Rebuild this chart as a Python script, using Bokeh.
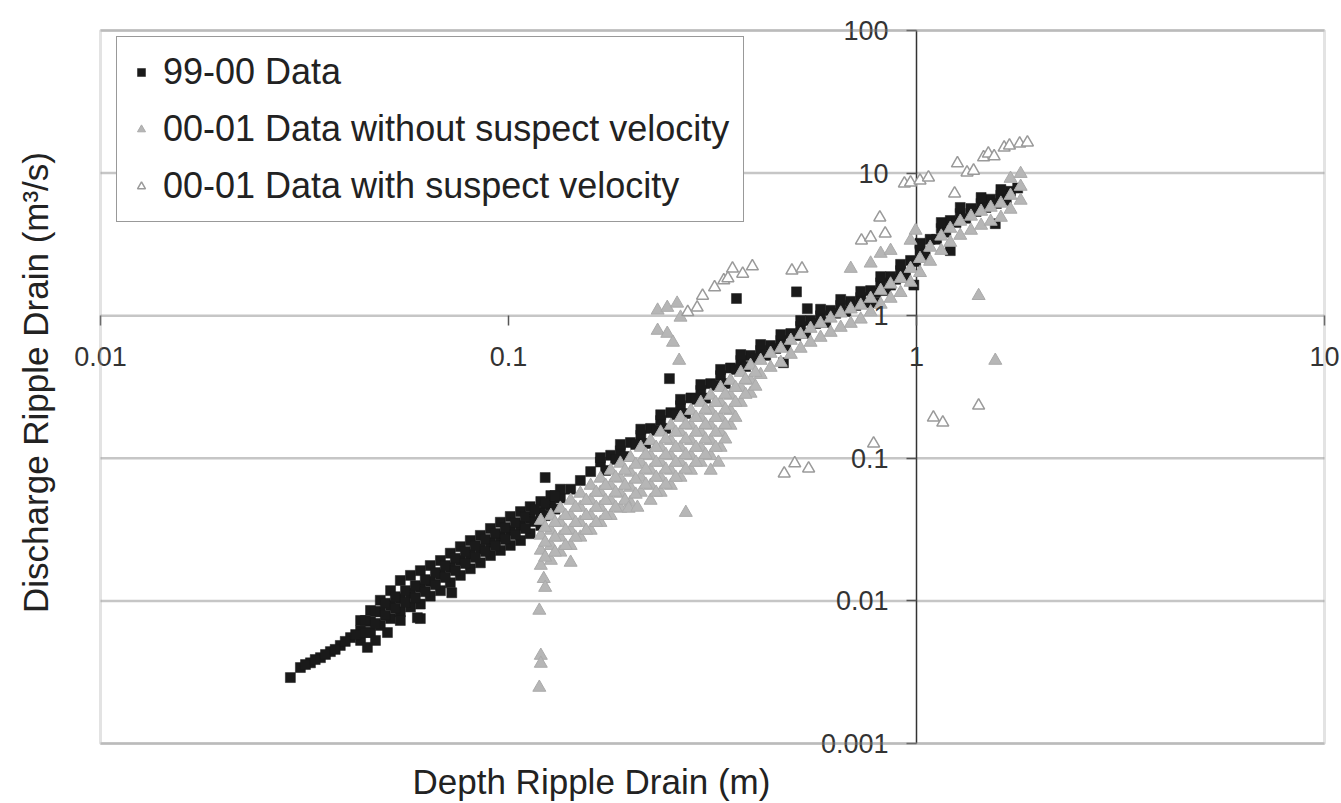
import math
from bokeh.plotting import figure
from bokeh.models import (FixedTicker, CustomJSTickFormatter, Legend, LegendItem,
                          Label, Range1d, BoxAnnotation)
from bokeh.embed import file_html
from bokeh.resources import INLINE

# ---------------- data ----------------
x_ticks = [0.01, 0.1, 1, 10]
y_ticks = [0.001, 0.01, 0.1, 1, 10, 100]
axis_cross = 1          # both axes cross at depth = 1, discharge = 1
legend_labels = ["99-00 Data",
                 "00-01 Data without suspect velocity",
                 "00-01 Data with suspect velocity"]
x_title = "Depth Ripple Drain (m)"
y_title = "Discharge Ripple Drain (m\u00b3/s)"

# 99-00 Data (black squares)
depth_9900 = [
    # main band
    .0292, .0309, .0327, .0346, .0366, .0387, .0410, .0434, .0459, .0485,
    .0514, .0543, .0575, .0608, .0643, .0681, .0720, .0762, .0806, .0853,
    .0903, .0955, .101, .107, .113, .120, .127, .134, .142, .150,
    .159, .168, .178, .188, .199, .211, .223, .236, .250, .264,
    .280, .296, .313, .331, .350, .371, .392, .415, .439, .465,
    .492, .520, .550, .582, .616, .652, .690, .730, .772, .817,
    .864, .914, .967, 1.02, 1.08, 1.15, 1.21, 1.28, 1.36, 1.44,
    1.52, 1.61, 1.70, 1.77,
    # upper edge of the band
    .0434, .0459, .0485, .0514, .0543, .0575, .0608, .0643, .0681, .0720,
    .0762, .0806, .0853, .0903, .0955, .101, .107, .113, .120, .127, .134,
    # lower edge of the band
    .0434, .0459, .0485, .0514, .0543, .0575, .0608, .0643, .0681, .0720,
    .0762, .0806, .0853, .0903, .0955, .101, .107, .113, .120,
    # scattered points
    .0543, .0608, .0451, .0472, .0505, .0598, .0726, .123, .248, .362,
    .508, .472, .794, .985, 1.21, 1.56, .540, 1.02, .864,
    # lower row of the upper band
    .173, .193, .217, .243, .272, .304, .340, .381, .427, .478,
    .535, .599, .671, .751, .840, .940, 1.05, 1.18, 1.32, 1.48, 1.66,
    # in-between points of the lower band
    .0318, .0336, .0356, .0376, .0398, .0422,
    .0446, .0446, .0472, .0472, .0499, .0499, .0528, .0528, .0559, .0559,
    .0591, .0591, .0625, .0625, .0662, .0662, .0700, .0700, .0741, .0741,
    .0784, .0784, .0829, .0829, .0878, .0878, .0929, .0929, .0982, .0982,
    .104, .104, .110, .110, .116, .116, .123, .123, .130, .130,
    # more points of the upper band
    .183, .205, .230, .257, .288, .322, .360, .403, .452, .506,
    .566, .634, .710, .794, .889, .995, 1.12, 1.25, 1.40, 1.57,
    .168, .188, .211, .236, .264, .296, .331, .371, .415, .465,
    .520, .582, .652, .730, .817, .914, 1.02, 1.15, 1.28, 1.44, 1.61,
]
discharge_9900 = [
    .00290, .00341, .00368, .00400, .00441, .00487, .00553, .00620, .00716, .00838,
    .00930, .0104, .0113, .0124, .0137, .0153, .0171, .0192, .0211, .0231,
    .0257, .0283, .0312, .0338, .0378, .0417, .0466, .0527, .0607, .0699,
    .0807, .0942, .105, .113, .129, .145, .162, .184, .209, .234,
    .265, .299, .334, .380, .430, .485, .526, .570, .618, .670,
    .750, .840, .925, 1.00, 1.09, 1.18, 1.26, 1.34, 1.50, 1.70,
    1.88, 2.07, 2.44, 2.86, 3.43, 4.09, 4.65, 5.21, 5.65, 6.13,
    6.56, 6.99, 7.45, 7.85,
    .00729, .00857, .0101, .0118, .0139, .0151, .0163, .0177, .0192, .0216,
    .0240, .0265, .0288, .0322, .0356, .0391, .0423, .0458, .0498, .0548, .0607,
    .00528, .00600, .00673, .00752, .00838, .00907, .00950, .0108, .0118, .0134,
    .0151, .0168, .0185, .0208, .0226, .0245, .0265, .0296, .0338,
    .00729, .00752, .00472, .00528, .00600, .00763, .0114, .0733, .362, 1.32,
    1.47, .468, 1.23, 1.64, 2.86, 4.42, 1.12, 3.22, 1.64,
    .0822, .103, .127, .162, .206, .264, .334, .440, .527, .610,
    .750, .895, 1.07, 1.23, 1.50, 1.86, 2.60, 3.84, 4.82, 5.74, 6.43,
    .00358, .00388, .00421, .00457, .00520, .00581,
    .00729, .00600, .00843, .00695, .00963, .00790, .0107, .00888, .0118, .00978,
    .0128, .0105, .0141, .0116, .0158, .0130, .0177, .0146, .0199, .0163,
    .0222, .0183, .0244, .0202, .0270, .0222, .0297, .0244, .0327, .0270,
    .0354, .0292, .0390, .0322, .0438, .0360, .0482, .0396, .0548, .0440,
    .0982, .125, .157, .202, .259, .324, .420, .501, .589, .726,
    .881, 1.04, 1.18, 1.45, 1.80, 2.40, 3.43, 4.50, 5.38, 6.13,
    .101, .125, .160, .202, .259, .329, .420, .534, .628, .737,
    .925, 1.11, 1.30, 1.48, 1.88, 2.29, 3.16, 4.50, 5.74, 6.74, 7.67,
]

# 00-01 Data without suspect velocity (grey filled triangles)
depth_0001 = [
    .120, .120, .120, .120,   .127, .127, .127, .127,
    .134, .134, .134, .134,   .142, .142, .142, .142,
    .150, .150, .150, .150,   .159, .159, .159, .159,
    .168, .168, .168, .168,   .178, .178, .178, .178,
    .188, .188, .188, .188,   .199, .199, .199, .199,
    .211, .211, .211, .211,
    .223, .223, .223, .223, .223,   .236, .236, .236, .236, .236,
    .250, .250, .250, .250, .250,   .264, .264, .264, .264, .264,
    .280, .280, .280, .280, .280,   .296, .296, .296, .296, .296,
    .313, .313, .313, .313, .313,   .331, .331, .331, .331, .331,
    .350, .350, .350, .350,   .371, .371, .371,   .392, .392, .392,
    .415, .415,   .439, .439,   .465, .465,   .492, .492,   .520, .520,
    .550, .550,   .582, .582,   .616, .616,   .652, .652,
    .690, .690, .690,   .730, .730,   .772, .772, .772,
    .817, .817, .817,   .864, .864, .864,   .914, .914,
    .967, .967, .967,   .995,
    1.02, 1.02,   1.08, 1.08,   1.15, 1.15,   1.21, 1.21,   1.28, 1.28,
    1.36, 1.36,   1.44, 1.44,   1.52, 1.52,   1.61, 1.61,
    1.70, 1.70, 1.70,   1.80, 1.80, 1.80,
    # in-between points of the dense band
    .123, .123, .123,   .130, .130, .130,   .138, .138, .138,
    .146, .146, .146,   .155, .155, .155,   .164, .164, .164,
    .173, .173, .173,   .183, .183, .183,   .193, .193, .193,
    .205, .205, .205,   .217, .217, .217,
    .230, .230, .230, .230,   .243, .243, .243, .243,
    .257, .257, .257, .257,   .272, .272, .272, .272,
    .288, .288, .288, .288,   .304, .304, .304, .304,
    .322, .322, .322, .322,   .340, .340, .340, .340,
    .360, .360, .360,   .381, .381,   .403, .403,
    # scattered points
    .119, .120, .120, .119, .122, .123, .142, .197, .207, .272, .327,
    .313, .232, .245, .259, .264, .232, .245, .253, .262, 1.42, 1.56,
]
discharge_0001 = [
    .0366, .0288, .0226, .0177,   .0396, .0312, .0244, .0192,
    .0445, .0354, .0279, .0219,   .0506, .0396, .0312, .0244,
    .0567, .0452, .0354, .0279,   .0644, .0506, .0396, .0312,
    .0723, .0576, .0452, .0354,   .0822, .0644, .0506, .0396,
    .0921, .0723, .0567, .0445,   .101, .0796, .0624, .0490,
    .119, .0935, .0734, .0576,
    .133, .104, .0822, .0644, .0506,   .152, .119, .0935, .0734, .0576,
    .170, .133, .104, .0822, .0644,    .193, .152, .119, .0935, .0734,
    .216, .170, .133, .104, .0822,     .246, .193, .152, .119, .0935,
    .276, .216, .170, .133, .104,      .313, .246, .193, .152, .119,
    .351, .276, .216, .170,   .399, .313, .246,   .447, .351, .285,
    .485, .386,   .543, .433,   .589, .469,   .670, .534,   .737, .589,
    .813, .649,   .881, .703,   .958, .762,   1.04, .826,
    1.11, .881, 2.14,   1.18, .943,   1.32, 1.06, 2.33,
    1.50, 1.20, 2.73,   1.66, 1.32, 2.86,   1.82, 1.45,
    2.14, 1.71, 3.37,   3.96,
    2.51, 2.00,   3.01, 2.40,   3.60, 2.86,   4.09, 3.26,   4.58, 3.65,
    4.97, 3.96,   5.38, 4.29,   5.74, 4.58,   6.13, 4.88,
    6.96, 5.56, 9.16,   8.05, 6.43, 9.91,
    .0327, .0257, .0202,   .0354, .0279, .0219,   .0396, .0312, .0244,
    .0452, .0354, .0279,   .0506, .0396, .0312,   .0576, .0452, .0354,
    .0644, .0506, .0396,   .0734, .0576, .0452,   .0822, .0644, .0506,
    .0905, .0711, .0558,   .106, .0836, .0655,
    .119, .0935, .0734, .0576,   .136, .106, .0836, .0655,
    .152, .119, .0935, .0734,    .172, .136, .106, .0836,
    .193, .152, .119, .0935,     .220, .172, .136, .106,
    .246, .193, .152, .119,      .280, .220, .172, .136,
    .313, .246, .193,   .356, .280,   .399, .319,
    .00857, .00414, .00364, .00247, .0143, .0124, .0186, .0445, .0452, .0416, .0935,
    .0822, 1.09, 1.14, 1.22, .973, .787, .750, .649, .485, 1.38, .485,
]

# 00-01 Data with suspect velocity (hollow triangles)
depth_0001_suspect = [
    .299, .320, .337, .354, .375, .396, .345, .290, .275, .495,
    .524, .733, .772, .813, .838, .934, .967, 1.02, 1.07, 1.24,
    1.26, 1.33, 1.38, 1.46, 1.50, 1.55, 1.64, 1.69, 1.79, 1.87,
    .474, .503, .544, .785, 1.10, 1.16, 1.42,
]
discharge_0001_suspect = [
    1.38, 1.58, 1.77, 2.14, 1.97, 2.22, 1.83, 1.14, 1.06, 2.07,
    2.14, 3.37, 3.54, 4.88, 3.77, 8.45, 8.59, 8.87, 9.31, 7.20,
    11.7, 10.1, 10.4, 12.9, 13.7, 13.1, 15.1, 15.6, 16.1, 16.4,
    .0783, .0921, .0849, .127, .193, .178, .234,
]

assert len(depth_9900) == len(discharge_9900)
assert len(depth_0001) == len(discharge_0001)
assert len(depth_0001_suspect) == len(discharge_0001_suspect)

FONT = "Liberation Sans"
W, H = 1341, 803
# pixel geometry of the plotted box inside the page
BOX_L, BOX_R, BOX_T, BOX_B = 100, 1324, 30, 743
px_dec_x = (BOX_R - BOX_L) / 3.0
px_dec_y = (BOX_B - BOX_T) / 5.0
lx0, lx1 = math.log10(x_ticks[0]), math.log10(x_ticks[-1])
ly0, ly1 = math.log10(y_ticks[0]), math.log10(y_ticks[-1])
x_range = Range1d(10 ** (lx0 - BOX_L / px_dec_x), 10 ** (lx1 + (W - BOX_R) / px_dec_x))
y_range = Range1d(10 ** (ly0 - (H - BOX_B) / px_dec_y), 10 ** (ly1 + BOX_T / px_dec_y))

p = figure(width=W, height=H, x_axis_type="log", y_axis_type="log",
           x_range=x_range, y_range=y_range,
           output_backend="svg", toolbar_location=None,
           min_border=0, min_border_left=0, min_border_right=0,
           min_border_top=0, min_border_bottom=0)
p.background_fill_color = "white"
p.border_fill_color = "white"
p.outline_line_color = None
p.xgrid.visible = False
p.ygrid.visible = False

fmt = "return tick.toString();"

xa = p.xaxis[0]
xa.fixed_location = axis_cross
xa.ticker = FixedTicker(ticks=x_ticks)
xa.formatter = CustomJSTickFormatter(code=fmt)
xa.axis_line_color = None
xa.major_tick_in = 0
xa.major_tick_out = 10
xa.major_tick_line_color = "#555555"
xa.major_tick_line_width = 1.5
xa.minor_tick_line_color = None
xa.major_label_text_font = FONT
xa.major_label_text_font_size = "27px"
xa.major_label_text_color = "#333333"
xa.major_label_standoff = 21

ya = p.yaxis[0]
ya.fixed_location = axis_cross
ya.ticker = FixedTicker(ticks=y_ticks)
ya.formatter = CustomJSTickFormatter(code=fmt)
ya.axis_line_color = None
ya.major_tick_in = 0
ya.major_tick_out = 10
ya.major_tick_line_color = "#555555"
ya.major_tick_line_width = 1.5
ya.minor_tick_line_color = None
ya.major_label_text_font = FONT
ya.major_label_text_font_size = "27px"
ya.major_label_text_color = "#333333"
ya.major_label_standoff = 18
ya.major_label_orientation = "horizontal"

# horizontal gridlines across the plotted box
n = len(y_ticks)
p.segment(x0=[x_ticks[0]] * n, x1=[x_ticks[-1]] * n, y0=y_ticks, y1=y_ticks,
          line_color="#c6c6c6", line_width=2.5)
# vertical axis line at depth = 1
p.segment(x0=[axis_cross], x1=[axis_cross], y0=[y_ticks[0]], y1=[y_ticks[-1]],
          line_color="#333333", line_width=1.5)

r1 = p.scatter(depth_9900, discharge_9900, marker="square", size=10,
               fill_color="#1a1a1a", line_color="#1a1a1a", line_width=0.5)
r2 = p.scatter(depth_0001, discharge_0001, marker="triangle", size=13,
               fill_color="#b6b6b6", line_color="#aaaaaa", line_width=1)
r3 = p.scatter(depth_0001_suspect, discharge_0001_suspect, marker="triangle",
               size=12, fill_color="white", line_color="#9a9a9a", line_width=1.5)

# plot-area border
p.add_layout(BoxAnnotation(left=x_ticks[0], right=x_ticks[-1],
                           bottom=y_ticks[0], top=y_ticks[-1],
                           fill_color=None, line_color="#a3a3a3", line_width=3))

legend = Legend(items=[LegendItem(label=legend_labels[0], renderers=[r1]),
                       LegendItem(label=legend_labels[1], renderers=[r2]),
                       LegendItem(label=legend_labels[2], renderers=[r3])],
                location=(116, 581), orientation="vertical",
                label_text_font=FONT, label_text_font_size="36px",
                label_text_color="#222222",
                glyph_width=20, glyph_height=42, label_height=42,
                label_standoff=12, padding=14, spacing=15, margin=0,
                border_line_color="#333333", border_line_width=1.5,
                background_fill_color="white", background_fill_alpha=1.0)
p.add_layout(legend)

p.add_layout(Label(x=412, y=22, x_units="screen", y_units="screen",
                   text=x_title, text_font=FONT, text_font_size="35px",
                   text_color="#222222", text_align="left",
                   text_baseline="alphabetic"))
p.add_layout(Label(x=35, y=421, x_units="screen", y_units="screen",
                   text=y_title, angle=math.pi / 2, text_font=FONT,
                   text_font_size="35px", text_color="#222222",
                   text_align="center", text_baseline="middle"))

open("out.html", "w").write(file_html(p, INLINE))
